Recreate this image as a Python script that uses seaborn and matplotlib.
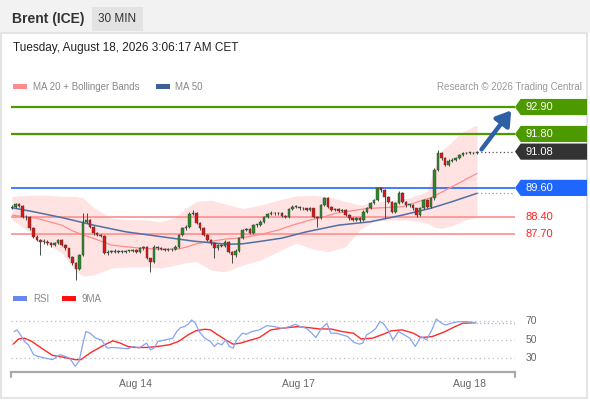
import numpy as np
import pandas as pd
import matplotlib
matplotlib.use('Agg')
import matplotlib.pyplot as plt
from matplotlib.patches import Rectangle, Polygon
import seaborn as sns

sns.set_theme(style='white')
plt.rcParams['font.family'] = ['Liberation Sans', 'DejaVu Sans']

# --- datos de velas (30 min) ---
first_open = 88.76
closes = [88.83, 88.94, 88.86, 88.42, 88.40, 87.95, 87.61, 87.47, 87.40, 87.40,
          87.34, 87.27, 87.34, 87.47, 87.27, 87.13, 86.79, 86.52, 86.31, 86.86,
          88.22, 88.29, 88.02, 87.74, 87.68, 87.63, 86.95, 87.00, 87.00, 87.04,
          87.00, 87.00, 87.02, 87.02, 87.06, 87.00, 87.13, 87.17, 86.72, 86.59,
          87.20, 87.13, 87.10, 87.06, 87.09, 87.09, 87.20, 87.68, 87.95, 88.02,
          88.53, 88.56, 88.18, 87.95, 87.68, 87.47, 87.34, 87.13, 87.25, 87.23,
          87.40, 87.00, 86.86, 87.04, 87.54, 87.88, 87.91, 87.77, 88.08, 88.08,
          88.22, 88.40, 88.52, 88.59, 88.56, 88.56, 88.45, 88.42, 88.72, 88.83,
          88.83, 88.76, 88.76, 88.70, 88.76, 88.42, 88.36, 88.90, 89.17, 88.83,
          88.70, 88.72, 88.67, 88.70, 88.49, 88.36, 88.29, 88.36, 88.29, 88.63,
          88.76, 88.97, 89.10, 89.58, 89.51, 89.24, 89.04, 88.63, 88.97, 89.40,
          89.04, 88.90, 88.90, 88.76, 88.49, 88.76, 89.10, 88.83, 89.17, 90.33,
          91.01, 90.80, 90.53, 90.71, 90.74, 90.80, 90.94, 91.01, 91.04, 91.04,
          91.01, 91.08]
highs = [88.90, 89.00, 88.99, 88.90, 88.50, 88.44, 87.99, 87.66, 87.52, 87.50,
         87.46, 87.40, 87.40, 87.52, 87.51, 87.31, 87.16, 86.84, 86.56, 86.90,
         88.56, 88.56, 88.34, 88.06, 87.80, 87.72, 87.67, 87.05, 87.06, 87.09,
         87.08, 87.05, 87.07, 87.06, 87.10, 87.10, 87.18, 87.24, 87.21, 86.76,
         87.25, 87.24, 87.17, 87.14, 87.13, 87.14, 87.25, 87.73, 88.00, 88.08,
         88.60, 88.70, 88.62, 88.22, 88.00, 87.72, 87.52, 87.38, 87.30, 87.30,
         87.46, 87.44, 87.04, 87.09, 87.60, 87.93, 87.97, 87.96, 88.13, 88.14,
         88.27, 88.45, 88.58, 88.66, 88.63, 88.62, 88.61, 88.50, 88.77, 88.89,
         88.90, 88.88, 88.82, 88.80, 88.81, 88.80, 88.47, 88.95, 89.23, 89.22,
         88.87, 88.78, 88.77, 88.75, 88.74, 88.53, 88.41, 88.41, 88.40, 88.68,
         88.82, 89.03, 89.16, 89.65, 89.64, 89.56, 89.28, 89.08, 89.02, 89.46,
         89.44, 89.08, 88.96, 88.94, 88.80, 88.82, 89.16, 89.14, 89.22, 90.40,
         91.15, 91.06, 90.86, 90.76, 90.80, 90.86, 90.99, 91.06, 91.08, 91.08,
         91.07, 91.12]
lows = [88.72, 88.80, 88.82, 88.38, 88.30, 87.90, 87.55, 87.42, 86.86, 87.32,
        87.26, 87.20, 87.22, 87.30, 87.22, 87.08, 86.74, 86.46, 85.84, 86.26,
        86.82, 88.15, 87.98, 87.68, 87.62, 87.58, 86.90, 86.88, 86.94, 86.95,
        86.95, 86.94, 86.96, 86.97, 86.98, 86.95, 86.96, 87.08, 86.68, 86.18,
        86.55, 87.08, 87.05, 87.01, 87.02, 87.04, 87.05, 87.16, 87.64, 87.90,
        87.98, 88.48, 88.14, 87.90, 87.62, 87.42, 87.29, 86.74, 87.08, 87.18,
        87.19, 86.95, 86.55, 86.80, 87.00, 87.50, 87.83, 87.72, 87.73, 88.02,
        88.04, 88.18, 88.36, 88.48, 88.50, 88.50, 88.40, 88.36, 88.38, 88.68,
        88.77, 88.71, 88.70, 88.65, 88.65, 88.38, 88.02, 88.32, 88.86, 88.78,
        88.65, 88.65, 88.62, 88.62, 88.44, 88.30, 88.24, 88.24, 88.22, 88.25,
        88.58, 88.72, 88.93, 89.06, 89.45, 88.36, 88.98, 88.58, 88.58, 88.93,
        88.98, 88.84, 88.84, 88.70, 88.42, 88.44, 88.72, 88.78, 88.78, 89.12,
        90.28, 90.74, 90.48, 90.48, 90.66, 90.70, 90.76, 90.90, 90.98, 91.00,
        90.97, 90.98]

# medias y bandas
ma20_idx = [0, 7, 14, 17, 20, 23, 28, 32, 37, 42, 46, 49, 52, 56, 60, 65, 70,
            75, 79, 84, 88, 91, 100, 110, 118, 124, 131]
ma20_val = [88.49, 88.36, 88.08, 87.85, 87.68, 87.54, 87.27, 87.20, 87.13, 87.10,
            87.08, 87.18, 87.32, 87.42, 87.51, 87.57, 87.70, 87.88, 88.08, 88.29,
            88.42, 88.56, 88.76, 88.83, 89.20, 89.65, 90.19]
ma50_idx = [0, 6, 14, 23, 32, 42, 51, 56, 61, 65, 70, 76, 83, 92, 101, 110, 118,
            124, 131]
ma50_val = [88.79, 88.63, 88.39, 88.08, 87.81, 87.61, 87.43, 87.36, 87.30, 87.32,
            87.42, 87.55, 87.81, 88.08, 88.22, 88.49, 88.77, 89.04, 89.38]
bb_idx = [0, 5, 10, 14, 18, 20, 23, 28, 33, 38, 42, 46, 49, 52, 56, 60, 65, 70,
          75, 80, 85, 89, 94, 98, 102, 107, 112, 117, 119, 121, 124, 127, 131]
bb_upper = [89.25, 89.30, 89.30, 89.25, 89.25, 89.20, 88.80, 88.36, 88.30, 88.29,
            88.22, 88.40, 88.78, 89.05, 89.10, 88.95, 88.76, 88.90, 89.10, 89.27,
            89.30, 89.24, 89.05, 88.90, 89.00, 89.10, 89.20, 89.45, 90.40, 91.10,
            91.50, 91.89, 92.17]
bb_lower = [88.30, 87.80, 87.30, 86.95, 86.20, 86.00, 86.05, 86.33, 86.38, 86.38,
            86.33, 86.45, 86.55, 86.59, 86.25, 86.18, 86.45, 86.66, 87.00, 87.35,
            87.10, 87.00, 87.20, 87.90, 88.25, 88.29, 88.29, 88.15, 88.00, 87.95,
            88.05, 88.25, 88.42]

# niveles
res_levels = [92.90, 91.80]
last_price = 91.08
pivot = 89.60
sup_levels = [88.40, 87.70]

# RSI
rsi_idx = [0.6, 1.4, 2.4, 3.5, 4.6, 6.1, 7.2, 11.4, 13.6, 16.2, 17.8, 18.9, 19.9,
           20.8, 22.0, 23.6, 25.2, 26.8, 28.4, 30.5, 32.6, 34.2, 35.8, 37.9, 39.0,
           40.0, 41.1, 43.2, 45.3, 46.4, 47.5, 48.5, 49.6, 50.6, 51.7, 52.7, 54.3,
           55.9, 57.0, 58.0, 59.1, 60.2, 61.2, 62.3, 63.3, 64.9, 66.0, 67.6, 69.7,
           71.8, 74.0, 76.0, 78.2, 79.8, 81.3, 82.9, 84.0, 85.6, 87.2, 88.7, 89.8,
           91.4, 93.0, 94.6, 96.2, 97.8, 98.8, 99.9, 101.5, 102.5, 103.6, 104.6,
           106.2, 107.3, 108.9, 110.5, 112.1, 113.6, 115.2, 116.8, 118.4, 119.5,
           121.1, 122.1, 123.7, 125.8, 128.0, 130.6]
rsi_val = [58.6, 60.4, 55.0, 47.9, 44.3, 33.6, 31.8, 28.2, 33.6, 30.0, 21.1, 26.4,
           44.3, 58.6, 56.8, 51.4, 49.6, 40.7, 41.4, 40.7, 40.0, 42.5, 40.7, 46.1,
           38.9, 40.7, 47.9, 49.6, 51.4, 58.6, 62.9, 63.9, 66.4, 71.1, 67.5, 58.6,
           51.4, 47.9, 42.5, 46.1, 44.3, 49.6, 42.5, 40.7, 49.6, 56.8, 55.7, 58.6,
           60.4, 65.0, 63.9, 62.1, 63.9, 66.4, 63.9, 62.1, 58.6, 52.1, 62.1, 67.5,
           56.8, 56.8, 55.0, 53.2, 47.1, 45.0, 46.1, 55.0, 58.6, 62.1, 69.3, 67.5,
           58.6, 49.6, 58.6, 55.0, 51.4, 42.5, 53.2, 49.6, 61.4, 72.1, 67.5, 65.7,
           67.5, 69.3, 69.3, 68.2]
ma9_idx = [0.3, 1.9, 3.5, 5.6, 8.3, 11.4, 14.6, 17.8, 19.4, 22.0, 25.2, 28.4, 30.5,
           32.6, 34.7, 37.9, 41.1, 44.3, 46.9, 49.6, 51.7, 54.3, 55.9, 58.0, 60.2,
           62.3, 64.4, 66.5, 69.7, 72.9, 76.0, 80.3, 83.5, 86.6, 89.8, 93.0, 96.2,
           98.3, 101.5, 104.6, 106.8, 109.9, 113.1, 115.2, 118.4, 121.6, 124.8,
           126.9, 130.6]
ma9_val = [45.0, 50.7, 51.4, 47.9, 40.7, 32.9, 30.7, 28.2, 28.2, 35.4, 42.5, 48.6,
           46.1, 42.5, 41.4, 41.4, 42.5, 44.3, 47.9, 55.0, 59.3, 61.1, 60.4, 55.0,
           49.6, 45.0, 46.1, 48.6, 52.1, 60.4, 62.1, 63.9, 62.9, 61.4, 61.4, 58.6,
           56.8, 50.7, 51.4, 55.7, 59.3, 60.4, 56.8, 52.1, 53.2, 57.9, 63.9, 67.5,
           68.2]
rsi_levels = [70, 50, 30]

date_ticks = [34.9, 80.6, 129.0]
date_labels = ['Aug 14', 'Aug 17', 'Aug 18']

W, H = 590, 400
xlim = (-0.28, 141.7)

fig = plt.figure(figsize=(W / 100, H / 100), dpi=100)
fig.patch.set_facecolor('white')

# capa de fondo en pixeles
bg = fig.add_axes([0, 0, 1, 1], zorder=-1)
bg.set_xlim(0, W)
bg.set_ylim(H, 0)
bg.axis('off')
bg.add_patch(Rectangle((0, 0), W, 33, color='#f2f2f2', lw=0))
bg.add_patch(Rectangle((0.5, 33), W - 4, H - 35, fill=False, ec='#e4e4e4', lw=1.5))
bg.text(12, 19, 'Brent (ICE)', fontsize=10, fontweight='bold', color='#333333', va='center')
bg.add_patch(Rectangle((92, 7), 51, 24, color='#e3e3e3', lw=0))
bg.text(117.5, 19, '30 MIN', fontsize=8.5, color='#333333', va='center', ha='center')
bg.text(13, 48, 'Tuesday, August 18, 2026 3:06:17 AM CET', fontsize=8.5, color='#222222', va='center')
bg.add_patch(Rectangle((13, 84), 14, 5, color='#ff8a8a', lw=0))
bg.text(33, 86.5, 'MA 20 + Bollinger Bands', fontsize=7, color='#888888', va='center')
bg.add_patch(Rectangle((156, 84), 14, 5, color='#3d5f9a', lw=0))
bg.text(175, 86.5, 'MA 50', fontsize=7, color='#888888', va='center')
bg.text(582, 86.5, 'Research \u00a9 2026 Trading Central', fontsize=7, color='#999999',
        va='center', ha='right')
bg.add_patch(Rectangle((13, 296), 14, 5, color='#6688ee', lw=0))
bg.text(33, 298.5, 'RSI', fontsize=7, color='#888888', va='center')
bg.add_patch(Rectangle((62, 296), 14, 5, color='#ff1010', lw=0))
bg.text(82, 298.5, '9MA', fontsize=7, color='#888888', va='center')

# --- panel de precios ---
ax = fig.add_axes([11 / W, 1 - 283 / H, 504 / W, 188 / H])
ax.patch.set_visible(False)
ax.set_xlim(*xlim)
ax.set_ylim(85.72, 93.39)
ax.axis('off')

ax.fill_between(bb_idx, bb_lower, bb_upper, color='#ffe3e3', lw=0, zorder=1)

for lvl in res_levels:
    ax.axhline(lvl, color='#4c9a00', lw=1.6, zorder=2)
ax.axhline(pivot, color='#2266ff', lw=1.2, zorder=2)
for lvl in sup_levels:
    ax.axhline(lvl, color='#ff8e8e', lw=1.2, zorder=2)

ma_df = pd.DataFrame({'i': ma20_idx, 'v': ma20_val})
sns.lineplot(data=ma_df, x='i', y='v', ax=ax, color='#ff8c8c', lw=0.9, zorder=3)
ma50_df = pd.DataFrame({'i': ma50_idx, 'v': ma50_val})
sns.lineplot(data=ma50_df, x='i', y='v', ax=ax, color='#4f6fa6', lw=1.1, zorder=3)

opens = np.array([first_open] + closes[:-1])
cl = np.array(closes)
idx = np.arange(len(cl))
up = cl >= opens
ax.vlines(idx, lows, highs, color='#4a4a4a', lw=0.7, zorder=4)
body = np.maximum(np.abs(cl - opens), 0.03)
ax.bar(idx, body, bottom=np.minimum(cl, opens), width=0.72,
       color=np.where(up, '#2a8a2a', '#dd1515'), edgecolor='#3a3a3a', lw=0.3, zorder=5)

# lineas punteadas al extremo derecho
ax.plot([idx[-1], xlim[1]], [last_price, last_price], ls=(0, (1, 2)), color='#555555', lw=0.9, zorder=3)
ax.plot([ma50_idx[-1], xlim[1]], [ma50_val[-1], ma50_val[-1]], ls=(0, (1, 2)), color='#8899bb', lw=0.9, zorder=3)

# flecha
ax.annotate('', xy=(141.1, 92.85), xytext=(131.8, 91.08),
            arrowprops=dict(arrowstyle='-|>,head_length=0.7,head_width=0.45', color='#2f5fa5', lw=3.2),
            zorder=6)

# etiquetas de niveles
box_x0, box_x1 = 141.7, 162.0
notch, half = 1.6, 0.33
def level_box(price, color):
    pts = [(box_x0, price), (box_x0 + notch, price + half), (box_x1, price + half),
           (box_x1, price - half), (box_x0 + notch, price - half)]
    ax.add_patch(Polygon(pts, closed=True, color=color, lw=0, clip_on=False, zorder=6))
    ax.text(box_x0 + 2.9, price, f'{price:.2f}', color='white', fontsize=8, va='center',
            clip_on=False, zorder=7)

for lvl in res_levels:
    level_box(lvl, '#4c9a00')
level_box(last_price, '#333333')
level_box(pivot, '#1f66ff')
for lvl in sup_levels:
    ax.text(box_x0 + 2.9, lvl, f'{lvl:.2f}', color='#ff2222', fontsize=8, va='center', clip_on=False)

# --- panel RSI ---
rax = fig.add_axes([11 / W, 1 - 372 / H, 504 / W, 62 / H])
rax.patch.set_visible(False)
rax.set_xlim(*xlim)
rax.set_ylim(14.86, 81.9)
for lvl in rsi_levels:
    rax.axhline(lvl, color='#bdbdbd', ls=(0, (1, 2.5)), lw=0.9, zorder=1)
    rax.text(box_x0 + 2.9, lvl, str(lvl), color='#666666', fontsize=7.5, va='center', clip_on=False)

rsi_df = pd.DataFrame({'i': rsi_idx, 'v': rsi_val})
sns.lineplot(data=rsi_df, x='i', y='v', ax=rax, color='#86a3f3', lw=0.9, zorder=3)
ma9_df = pd.DataFrame({'i': ma9_idx, 'v': ma9_val})
sns.lineplot(data=ma9_df, x='i', y='v', ax=rax, color='#ff2a2a', lw=1.0, zorder=2)
rax.plot([rsi_idx[-1], xlim[1]], [rsi_val[-1], rsi_val[-1]], ls=(0, (1, 2)), color='#99aef0', lw=0.9)

for s in ['top', 'right', 'left']:
    rax.spines[s].set_visible(False)
rax.spines['bottom'].set_color('#aaaaaa')
rax.spines['bottom'].set_linewidth(1.6)
rax.plot([0, 0], [0, -0.08], transform=rax.transAxes, color='#aaaaaa', lw=1.6, clip_on=False)
rax.plot([1, 1], [0, -0.08], transform=rax.transAxes, color='#aaaaaa', lw=1.6, clip_on=False)
rax.set_yticks([])
rax.set_xticks(date_ticks)
rax.set_xticklabels(date_labels, fontsize=7.5, color='#666666')
rax.tick_params(axis='x', length=0, pad=5)
rax.set_xlabel('')
rax.set_ylabel('')
ax.set_xlabel('')
ax.set_ylabel('')

fig.savefig('out.png', dpi=100)
